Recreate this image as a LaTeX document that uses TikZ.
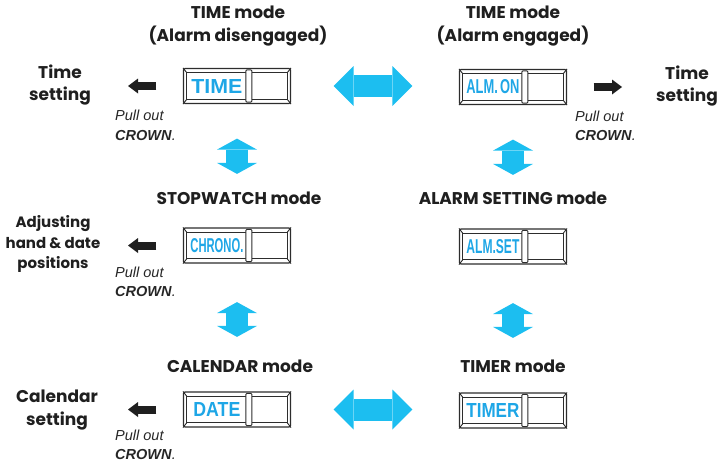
\documentclass[tikz,border=0pt]{standalone}
\usepackage{fontspec}
\setmainfont{Poppins}
\newfontfamily\crownfont{Liberation Sans}
\usepackage{graphicx}
\usetikzlibrary{arrows.meta}

\definecolor{swapblue}{RGB}{28,190,240}
\definecolor{lcdblue}{RGB}{30,166,230}
\definecolor{caseline}{RGB}{45,45,45}

\tikzset{
  panel/.style={draw=caseline, line width=1.2pt, rounded corners=1.5pt,
    minimum width=107pt, minimum height=35pt, inner sep=0pt},
  panelline/.style={draw=caseline, line width=0.9pt},
  lcd/.style={text=lcdblue, font=\crownfont\bfseries, inner sep=0pt},
  modetitle/.style={font=\bfseries\fontsize{17}{22.5}\selectfont, align=center, text=black!88},
  sidelabel/.style={font=\bfseries\fontsize{17}{22.5}\selectfont, align=center, text=black!88},
  pullout/.style={font=\crownfont\fontsize{14.5}{19.5}\selectfont, align=left,
    anchor=west, inner sep=0pt, text=black!85},
  crownarrow/.style={draw=black!88, line width=8pt,
    -{Triangle[length=10pt, width=15pt, line width=0pt]}},
  hswap/.style={draw=swapblue, line width=22pt,
    {Triangle[length=20pt, width=40pt, line width=0pt]}-{Triangle[length=20pt, width=40pt, line width=0pt]}},
  vswap/.style={draw=swapblue, line width=22pt,
    {Triangle[length=11pt, width=40pt, line width=0pt]}-{Triangle[length=11pt, width=40pt, line width=0pt]}}
}

% watch face: name, position, display text, text width
\newcommand{\modepanel}[4]{%
  \node[panel] (#1) at (#2) {};
  \draw[panelline] ([shift={(4pt,-5pt)}]#1.north west) rectangle ([shift={(-4pt,5pt)}]#1.south east);
  \draw[panelline] (#1.north west) -- ++(4pt,-5pt);
  \draw[panelline] (#1.north east) -- ++(-4pt,-5pt);
  \draw[panelline] (#1.south west) -- ++(4pt,5pt);
  \draw[panelline] (#1.south east) -- ++(-4pt,5pt);
  \draw[panelline, fill=white, rounded corners=1pt]
    ([shift={(63pt,-2pt)}]#1.north west) rectangle ([shift={(69pt,2pt)}]#1.south west);
  \node[lcd] (#1-lcd) at ([xshift=34pt]#1.west) {\resizebox{#4}{14pt}{#3}};
}

\begin{document}
\begin{tikzpicture}[x=1pt, y=-1pt]
  \useasboundingbox (0,0) rectangle (718,463);

  % mode titles
  \node[modetitle] (timeOffTitle) at (238,26) {TIME mode\\(Alarm disengaged)};
  \node[modetitle] (timeOnTitle) at (513,26) {TIME mode\\(Alarm engaged)};
  \node[modetitle] (chronoTitle) at (239,198.5) {STOPWATCH mode};
  \node[modetitle] (almSetTitle) at (513,198.5) {ALARM SETTING mode};
  \node[modetitle] (dateTitle) at (240,366) {CALENDAR mode};
  \node[modetitle] (timerTitle) at (513,366) {TIMER mode};

  % watch faces
  \modepanel{timeOff}{237,86}{TIME}{51pt}
  \modepanel{timeOn}{513,87}{ALM.\,ON}{53pt}
  \modepanel{chrono}{237,245.5}{CHRONO.}{53pt}
  \modepanel{almSet}{513,246.5}{ALM.SET}{53pt}
  \modepanel{date}{237,409.5}{DATE}{47pt}
  \modepanel{timer}{513,410.5}{TIMER}{53pt}

  % crown settings
  \node[sidelabel] (setTimeL) at (60,85) {Time\\setting};
  \node[sidelabel] (setTimeR) at (687,86) {Time\\setting};
  \node[sidelabel, font=\bfseries\fontsize{15}{20.5}\selectfont] (adjustL) at (53,244) {Adjusting\\hand \& date\\positions};
  \node[sidelabel] (setDateL) at (57,410) {Calendar\\setting};

  \node[pullout] (pullTimeOff) at (115,125.5) {\textit{Pull out}\\\textbf{\textit{CROWN}}\textit{.}};
  \node[pullout] (pullTimeOn) at (575,126) {\textit{Pull out}\\\textbf{\textit{CROWN}}\textit{.}};
  \node[pullout] (pullChrono) at (115,282) {\textit{Pull out}\\\textbf{\textit{CROWN}}\textit{.}};
  \node[pullout] (pullDate) at (115,445) {\textit{Pull out}\\\textbf{\textit{CROWN}}\textit{.}};

  \draw[crownarrow, shorten <=26.5pt, shorten >=68pt] (timeOff.west) -- (timeOff.west -| setTimeL);
  \draw[crownarrow, shorten <=26.5pt, shorten >=65pt] (timeOn.east) -- (timeOn.east -| setTimeR);
  \draw[crownarrow, shorten <=26.5pt, shorten >=75pt] (chrono.west) -- (chrono.west -| adjustL);
  \draw[crownarrow, shorten <=26.5pt, shorten >=71pt] (date.west) -- (date.west -| setDateL);

  % mode changes
  \draw[hswap, shorten <=42.5pt, shorten >=46.5pt] (timeOff.east) -- (timeOff.east -| timeOn.west);
  \draw[hswap, shorten <=42.5pt, shorten >=46.5pt] (date.east) -- (date.east -| timer.west);
  \draw[vswap, shorten <=34.5pt, shorten >=53.5pt] (timeOff.south) -- (chrono.north);
  \draw[vswap, shorten <=34.5pt, shorten >=53.5pt] (timeOn.south) -- (almSet.north);
  \draw[vswap, shorten <=38.5pt, shorten >=54.5pt] (chrono.south) -- (date.north);
  \draw[vswap, shorten <=38.5pt, shorten >=54.5pt] (almSet.south) -- (timer.north);
\end{tikzpicture}
\end{document}
